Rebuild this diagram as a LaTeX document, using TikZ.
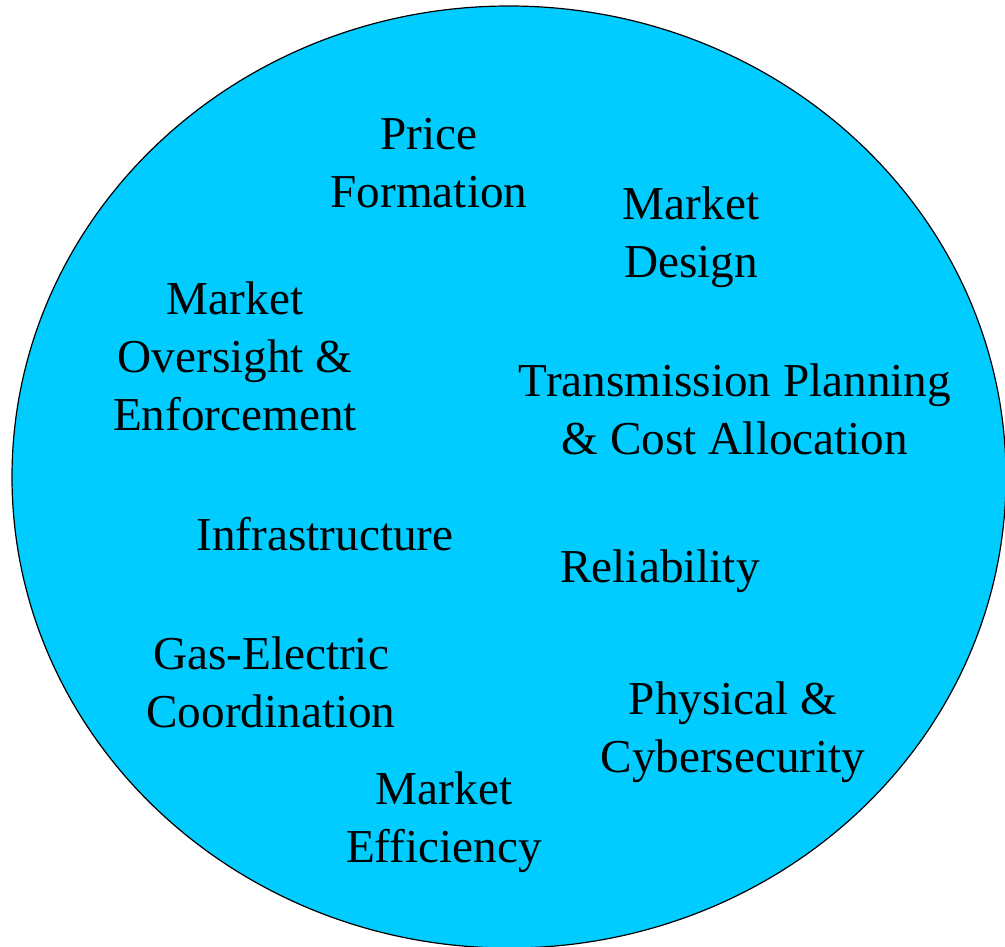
\documentclass[tikz,border=0pt]{standalone}
\usepackage{fontspec}
\setmainfont{Liberation Serif}
\usetikzlibrary{shapes}
\definecolor{skyfill}{HTML}{00CCFF}

\begin{document}
\begin{tikzpicture}[x=0.75pt, y=-0.75pt,
    topic/.style={align=center, anchor=base, font=\fontsize{35.4}{43.2}\selectfont}]
    \useasboundingbox (0,0) rectangle (1005,946);
    \draw[fill=skyfill, line width=0.9pt] (509,477) ellipse [x radius=372.75pt, y radius=353.25pt];

    % base anchor sits on the last line
    \node[topic] (price) at (429,207) {Price\\Formation};
    \node[topic] (design) at (691,277) {Market\\Design};
    \node[topic] (oversight) at (235,430) {Market\\Oversight \&\\Enforcement};
    \node[topic] (transmission) at (735,454) {Transmission Planning\\\& Cost Allocation};
    \node[topic] (infra) at (325,550) {Infrastructure};
    \node[topic] (reliab) at (660,582) {Reliability};
    \node[topic] (gas) at (271,727) {Gas-Electric\\Coordination};
    \node[topic] (security) at (733,772) {Physical \&\\Cybersecurity};
    \node[topic] (efficiency) at (444,862) {Market\\Efficiency};
\end{tikzpicture}
\end{document}
